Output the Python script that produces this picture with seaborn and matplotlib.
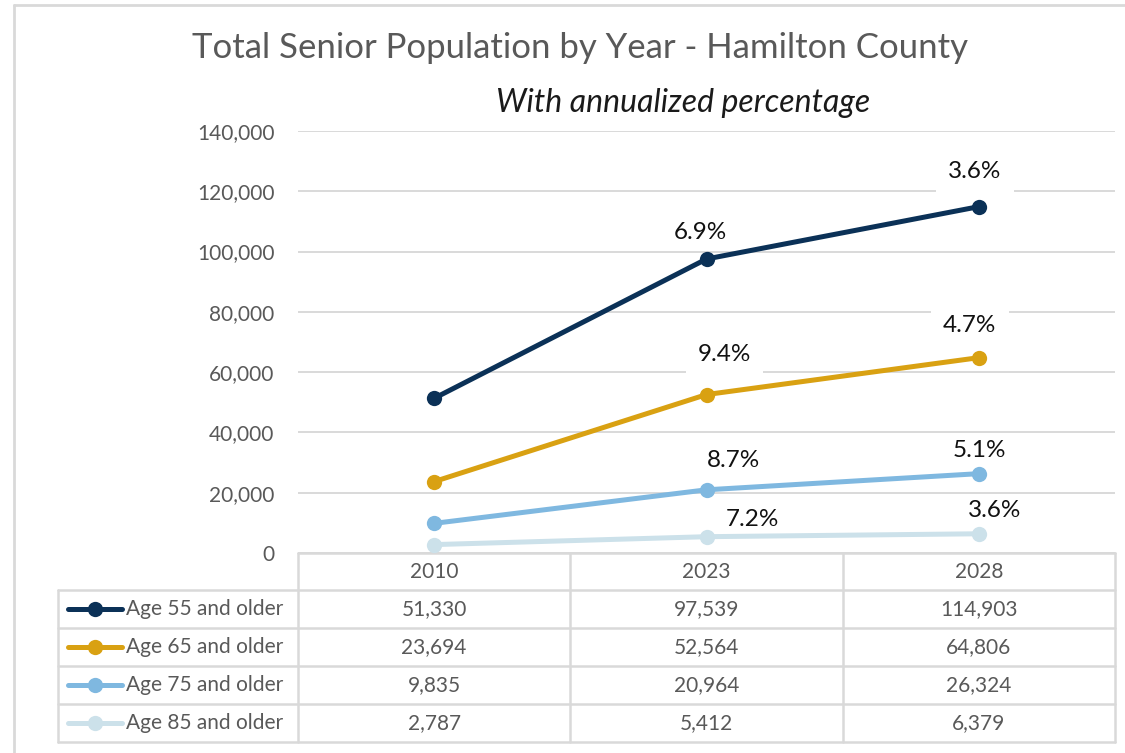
import matplotlib
matplotlib.use("Agg")
import matplotlib.pyplot as plt
import matplotlib.transforms as mtransforms
from matplotlib.lines import Line2D
import pandas as pd
import seaborn as sns

# ---- data -------------------------------------------------------------
years = ["2010", "2023", "2028"]
groups = ["Age 55 and older", "Age 65 and older", "Age 75 and older", "Age 85 and older"]
age55 = [51330, 97539, 114903]
age65 = [23694, 52564, 64806]
age75 = [9835, 20964, 26324]
age85 = [2787, 5412, 6379]
# annualized growth since the previous year shown
pct55 = [None, 6.9, 3.6]
pct65 = [None, 9.4, 4.7]
pct75 = [None, 8.7, 5.1]
pct85 = [None, 7.2, 3.6]
yticks = [0, 20000, 40000, 60000, 80000, 100000, 120000, 140000]

title = "Total Senior Population by Year - Hamilton County"
subtitle = "With annualized percentage"

# ---- styling ----------------------------------------------------------
colors = ["#0B3157", "#D9A112", "#7FB8E0", "#CCE1EA"]
grid_color = "#D9D9D9"
text_gray = "#595959"
# label offsets (pixels) relative to each point, and whether a label carries a white backing
label_offsets = [
    [None, (-6, 26), (-4, 35)],
    [None, (18, 40), (-9, 32)],
    [None, (27, 29), (1, 23)],
    [None, (46, 17), (16, 23)],
]
label_box = [
    [None, False, True],
    [None, True, True],
    [None, False, False],
    [None, False, False],
]

sns.set_theme(style="white")
plt.rcParams["font.family"] = ["Lato", "DejaVu Sans"]

W, H = 1125, 753
fig = plt.figure(figsize=(W / 100, H / 100), dpi=100)
fig.patch.set_facecolor("white")

def fx(px):
    return px / W

def fy(py):
    return 1 - py / H

# overlay in pixel coordinates for frame, titles and table
ov = fig.add_axes([0, 0, 1, 1], zorder=0)
ov.set_xlim(0, W)
ov.set_ylim(H, 0)
ov.axis("off")

ax = fig.add_axes([fx(298), fy(553), fx(1115) - fx(298), fy(131) - fy(553)], zorder=1)
ax.patch.set_alpha(0)

series = [age55, age65, age75, age85]
pcts = [pct55, pct65, pct75, pct85]
df = pd.DataFrame({
    "Year": [y for _ in groups for y in years],
    "Group": [g for g in groups for _ in years],
    "Population": [v for s in series for v in s],
})

sns.lineplot(data=df, x="Year", y="Population", hue="Group", hue_order=groups,
             palette=colors, marker="o", markersize=11, markeredgewidth=0,
             linewidth=3.6, sort=False, legend=False, ax=ax, zorder=3)

ax.set_xlim(-0.5, len(years) - 0.5)
ax.set_ylim(0, 140000)
ax.set_yticks(yticks)
ax.set_yticklabels([f"{t:,}" for t in yticks], color=text_gray, fontsize=15)
ax.tick_params(axis="y", length=0, pad=17)
ax.set_xticks([])
ax.set_xlabel("")
ax.set_ylabel("")
for sp in ax.spines.values():
    sp.set_visible(False)
ax.set_axisbelow(True)
ax.yaxis.grid(True, color=grid_color, linewidth=1.4)

# percentage labels
for gi, (vals, pc) in enumerate(zip(series, pcts)):
    for xi, (v, p) in enumerate(zip(vals, pc)):
        if p is None:
            continue
        dx, dy = label_offsets[gi][xi]
        kw = {}
        if label_box[gi][xi]:
            kw["bbox"] = dict(boxstyle="square,pad=0.5", fc="white", ec="none")
        ax.annotate(f"{p:.1f}%", xy=(xi, v), xytext=(dx, dy),
                    textcoords="offset pixels", ha="center", va="center",
                    fontsize=17.5, color="#111111", zorder=2.5, **kw)

# titles
ov.text(580, 48, title, ha="center", va="center", fontsize=25,
        color=text_gray)
ov.text(683, 103, subtitle, ha="center", va="center", fontsize=23,
        color="#1a1a1a", style="italic")

# outer frame (top and left edges)
ov.add_line(Line2D([14, W], [5, 5], color=grid_color, lw=2))
ov.add_line(Line2D([14, 14], [5, H], color=grid_color, lw=2))

# data table beneath the plot
row_edges = [553, 590, 628, 666, 704, 742]
col_edges = [298, 570, 843, 1115]
tl = dict(color=grid_color, lw=1.8, zorder=1)
ov.add_line(Line2D([298, 1115], [553, 553], **tl))
for y in row_edges[1:]:
    ov.add_line(Line2D([58, 1115], [y, y], **tl))
ov.add_line(Line2D([58, 58], [590, 742], **tl))
for x in col_edges:
    ov.add_line(Line2D([x, x], [553, 742], **tl))

blend = mtransforms.blended_transform_factory(ax.transData, ov.transData)
for xi, yr in enumerate(years):
    ov.text(xi, (row_edges[0] + row_edges[1]) / 2, yr, transform=blend,
            ha="center", va="center", fontsize=15, color=text_gray)
for gi, (g, vals) in enumerate(zip(groups, series)):
    yc = (row_edges[gi + 1] + row_edges[gi + 2]) / 2
    ov.add_line(Line2D([68, 122], [yc, yc], color=colors[gi], lw=3.6, zorder=2))
    ov.add_line(Line2D([95], [yc], color=colors[gi], marker="o", markersize=11,
                       markeredgewidth=0, zorder=2))
    ov.text(126, yc, g, ha="left", va="center", fontsize=15, color=text_gray)
    for xi, v in enumerate(vals):
        ov.text(xi, yc, f"{v:,}", transform=blend, ha="center", va="center",
                fontsize=15, color=text_gray)

fig.savefig("out.png", dpi=100, facecolor="white")
